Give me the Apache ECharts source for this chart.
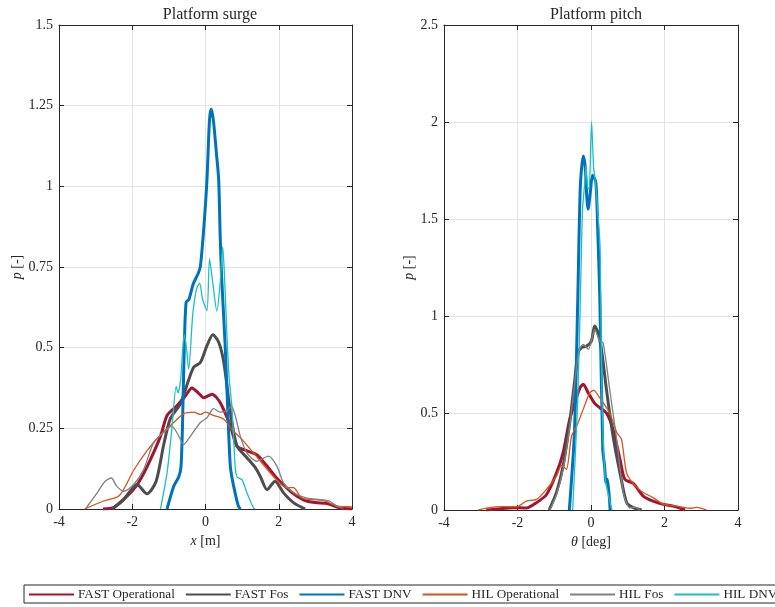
<!DOCTYPE html>
<html>
<head>
<meta charset="utf-8">
<script src="https://cdn.jsdelivr.net/npm/echarts@6/dist/echarts.min.js"></script>
<style>html,body{margin:0;padding:0;background:#fff}#c{width:775px;height:607px}</style>
</head>
<body>
<div id="c"></div>
<script>
// ---- DATA ----
const seriesNames = ['FAST Operational', 'FAST Fos', 'FAST DNV', 'HIL Operational', 'HIL Fos', 'HIL DNV'];
const xTicks = [-4, -2, 0, 2, 4];

// Platform surge (x in m, p)
const surgeFastOpX = [-2.8, -2.5, -2.15, -1.87, -1.6, -1.23, -1.05, -0.78, -0.55, -0.37, -0.2, -0.05, 0.18, 0.4, 0.68, 0.86, 1.13, 1.4, 1.68, 1.95, 2.35, 2.7, 3.0, 3.32, 3.68, 4.0];
const surgeFastOpP = [0, 0.005, 0.039, 0.075, 0.13, 0.225, 0.29, 0.32, 0.35, 0.375, 0.36, 0.345, 0.356, 0.33, 0.257, 0.195, 0.18, 0.168, 0.133, 0.095, 0.052, 0.027, 0.02, 0.017, 0.003, 0];
const surgeFastFosX = [-2.55, -2.23, -1.87, -1.6, -1.35, -1.14, -0.96, -0.69, -0.46, -0.32, -0.14, 0.04, 0.2, 0.36, 0.5, 0.68, 0.86, 1.13, 1.36, 1.5, 1.68, 1.9, 2.13, 2.41, 2.72];
const surgeFastFosP = [0, 0.03, 0.076, 0.047, 0.085, 0.2, 0.28, 0.325, 0.40, 0.44, 0.454, 0.506, 0.54, 0.517, 0.454, 0.299, 0.195, 0.159, 0.128, 0.10, 0.06, 0.086, 0.05, 0.019, 0];
const surgeFastDnvX = [-1.05, -0.87, -0.73, -0.67, -0.63, -0.58, -0.53, -0.45, -0.34, -0.2, -0.14, -0.05, 0.04, 0.11, 0.16, 0.22, 0.3, 0.36, 0.4, 0.44, 0.54, 0.61, 0.68, 0.77, 0.9, 0.96];
const surgeFastDnvP = [0, 0.07, 0.10, 0.13, 0.25, 0.5, 0.64, 0.65, 0.696, 0.73, 0.752, 0.866, 1.02, 1.207, 1.24, 1.2, 1.1, 1.021, 0.85, 0.72, 0.5, 0.30, 0.13, 0.07, 0.008, 0];
const surgeHilOpX = [-3.3, -2.8, -2.35, -1.96, -1.6, -1.23, -0.87, -0.6, -0.32, -0.14, 0, 0.22, 0.5, 0.77, 1.0, 1.5, 1.9, 2.22, 2.4, 2.62, 2.9, 3.22, 3.59, 3.95, 4.0];
const surgeHilOpP = [0, 0.024, 0.042, 0.12, 0.18, 0.23, 0.268, 0.295, 0.30, 0.293, 0.30, 0.29, 0.278, 0.24, 0.215, 0.148, 0.095, 0.066, 0.066, 0.035, 0.029, 0.027, 0.009, 0.007, 0.006];
const surgeHilFosX = [-3.28, -2.96, -2.74, -2.57, -2.42, -2.23, -1.96, -1.69, -1.42, -1.14, -0.92, -0.73, -0.6, -0.41, -0.14, 0.04, 0.22, 0.4, 0.59, 0.7, 0.81, 0.95, 1.13, 1.4, 1.72, 1.95, 2.13, 2.41, 2.77, 3.13, 3.4, 3.59, 3.77];
const surgeHilFosP = [0, 0.05, 0.086, 0.096, 0.07, 0.055, 0.076, 0.122, 0.205, 0.237, 0.257, 0.226, 0.20, 0.226, 0.268, 0.283, 0.311, 0.30, 0.304, 0.32, 0.29, 0.226, 0.174, 0.148, 0.164, 0.133, 0.081, 0.05, 0.034, 0.029, 0.024, 0.008, 0.003];
const surgeHilDnvX = [-1.23, -1.05, -0.92, -0.8, -0.75, -0.68, -0.58, -0.52, -0.46, -0.35, -0.25, -0.16, -0.08, 0.04, 0.11, 0.2, 0.31, 0.4, 0.47, 0.52, 0.59, 0.65, 0.72, 0.81, 0.86, 1.0, 1.13, 1.31, 1.36];
const surgeHilDnvP = [0, 0.112, 0.247, 0.38, 0.36, 0.40, 0.54, 0.50, 0.433, 0.60, 0.68, 0.70, 0.65, 0.615, 0.775, 0.70, 0.613, 0.70, 0.813, 0.72, 0.525, 0.40, 0.318, 0.132, 0.10, 0.09, 0.05, 0.003, 0];

// Platform pitch (theta in deg, p)
const pitchFastOpX = [-2.85, -2.48, -2.12, -1.76, -1.48, -1.21, -0.94, -0.76, -0.58, -0.44, -0.3, -0.21, -0.08, 0.1, 0.24, 0.42, 0.6, 0.79, 0.92, 1.15, 1.42, 1.69, 1.97, 2.24, 2.56];
const pitchFastOpP = [0, 0.007, 0.012, 0.01, 0.038, 0.08, 0.19, 0.295, 0.467, 0.553, 0.63, 0.648, 0.605, 0.55, 0.527, 0.50, 0.416, 0.26, 0.158, 0.137, 0.072, 0.046, 0.029, 0.02, 0];
const pitchFastFosX = [-1.14, -0.94, -0.76, -0.58, -0.44, -0.35, -0.26, -0.12, 0.01, 0.1, 0.19, 0.29, 0.42, 0.6, 0.79, 0.97, 1.15, 1.38];
const pitchFastFosP = [0, 0.09, 0.227, 0.45, 0.673, 0.81, 0.837, 0.845, 0.87, 0.948, 0.914, 0.82, 0.622, 0.38, 0.19, 0.038, 0.012, 0];
const pitchFastDnvX = [-0.59, -0.45, -0.36, -0.29, -0.21, -0.16, -0.11, -0.08, -0.01, 0.04, 0.13, 0.18, 0.24, 0.32, 0.37, 0.41, 0.45, 0.52];
const pitchFastDnvP = [0, 0.40, 1.086, 1.67, 1.825, 1.773, 1.6, 1.55, 1.653, 1.726, 1.69, 1.464, 1.09, 0.313, 0.227, 0.14, 0.158, 0];
const pitchHilOpX = [-3.07, -2.85, -2.39, -2.03, -1.76, -1.48, -1.21, -0.94, -0.8, -0.67, -0.53, -0.39, -0.21, -0.03, 0.08, 0.2, 0.33, 0.51, 0.7, 0.83, 0.97, 1.19, 1.42, 1.69, 1.97, 2.33, 2.69, 2.88, 3.15];
const pitchHilOpP = [0, 0.01, 0.017, 0.016, 0.046, 0.055, 0.107, 0.175, 0.23, 0.21, 0.38, 0.433, 0.52, 0.605, 0.617, 0.588, 0.553, 0.50, 0.40, 0.364, 0.19, 0.127, 0.09, 0.064, 0.03, 0.02, 0.009, 0.014, 0];
const pitchHilFosX = [-1.12, -0.94, -0.76, -0.58, -0.44, -0.33, -0.21, -0.07, 0.1, 0.24, 0.33, 0.51, 0.7, 0.88, 1.06, 1.2, 1.33];
const pitchHilFosP = [0, 0.08, 0.21, 0.43, 0.66, 0.82, 0.854, 0.828, 0.93, 0.87, 0.862, 0.62, 0.36, 0.09, 0.01, 0.015, 0];
const pitchHilDnvX = [-0.5, -0.36, -0.27, -0.23, -0.17, -0.14, -0.09, -0.05, 0.015, 0.07, 0.12, 0.2, 0.25, 0.3, 0.39, 0.5, 0.57];
const pitchHilDnvP = [0, 0.57, 1.26, 1.55, 1.687, 1.773, 1.66, 1.654, 2.0, 1.77, 1.69, 1.5, 1.34, 0.57, 0.158, 0.055, 0];

// ---- STYLE ----
const FONT = '"Liberation Serif", "DejaVu Serif", serif';
const TXT = '#262626';
const colors = ['#A2142F', '#4D4D4D', '#0072BD', '#D95319', '#808080', '#1BBFC4'];
const widths = [3, 3, 3, 1.3, 1.3, 1.3];

const zip = (xs, ys) => xs.map((x, i) => [x, ys[i]]);
const surge = [zip(surgeFastOpX, surgeFastOpP), zip(surgeFastFosX, surgeFastFosP), zip(surgeFastDnvX, surgeFastDnvP),
               zip(surgeHilOpX, surgeHilOpP), zip(surgeHilFosX, surgeHilFosP), zip(surgeHilDnvX, surgeHilDnvP)];
const pitch = [zip(pitchFastOpX, pitchFastOpP), zip(pitchFastFosX, pitchFastFosP), zip(pitchFastDnvX, pitchFastDnvP),
               zip(pitchHilOpX, pitchHilOpP), zip(pitchHilFosX, pitchHilFosP), zip(pitchHilDnvX, pitchHilDnvP)];

function xAx(grid, main, name) {
  return {
    type: 'value', gridIndex: grid, min: xTicks[0], max: xTicks[xTicks.length - 1], interval: 2,
    position: main ? 'bottom' : 'top',
    axisLine: { show: true, onZero: false, lineStyle: { color: TXT, width: 1 } },
    axisTick: { show: true, inside: true, length: 5, lineStyle: { color: TXT } },
    axisLabel: { show: main, color: TXT, fontFamily: FONT, fontSize: 14, margin: 6 },
    splitLine: { show: main, lineStyle: { color: '#e3e3e3', width: 1 } },
    name: main ? name : '', nameLocation: 'middle', nameGap: 25,
    nameTextStyle: { color: TXT, fontFamily: FONT, fontSize: 14,
      rich: { i: { fontStyle: 'italic', fontFamily: FONT, fontSize: 14, color: TXT } } }
  };
}
function yAx(grid, main, max, step, gap) {
  return {
    type: 'value', gridIndex: grid, min: 0, max: max, interval: step,
    position: main ? 'left' : 'right',
    axisLine: { show: true, onZero: false, lineStyle: { color: TXT, width: 1 } },
    axisTick: { show: true, inside: true, length: 5, lineStyle: { color: TXT } },
    axisLabel: { show: main, color: TXT, fontFamily: FONT, fontSize: 14, margin: 6 },
    splitLine: { show: main, lineStyle: { color: '#e3e3e3', width: 1 } },
    name: main ? '{i|p} [-]' : '', nameLocation: 'middle', nameGap: gap,
    nameTextStyle: { color: TXT, fontFamily: FONT, fontSize: 14,
      rich: { i: { fontStyle: 'italic', fontFamily: FONT, fontSize: 14, color: TXT } } }
  };
}

const series = [];
[surge, pitch].forEach((set, g) => {
  set.forEach((d, k) => {
    series.push({
      type: 'line', name: seriesNames[k], data: d,
      xAxisIndex: g * 2, yAxisIndex: g * 2,
      showSymbol: false, symbol: 'none', smooth: 0.25,
      lineStyle: { color: colors[k], width: widths[k] },
      itemStyle: { color: colors[k] },
      z: k < 3 ? 2 : 3, animation: false
    });
  });
});

const chart = echarts.init(document.getElementById('c'), null, { renderer: 'canvas' });
chart.setOption({
  backgroundColor: '#fff',
  animation: false,
  title: [
    { text: 'Platform surge', left: 205, top: 2, textAlign: 'center',
      textStyle: { fontFamily: FONT, fontSize: 16, fontWeight: 'normal', color: TXT } },
    { text: 'Platform pitch', left: 591, top: 2, textAlign: 'center',
      textStyle: { fontFamily: FONT, fontSize: 16, fontWeight: 'normal', color: TXT } }
  ],
  grid: [
    { left: 59, top: 25, width: 293, height: 484 },
    { left: 444, top: 25, width: 294, height: 485 }
  ],
  xAxis: [xAx(0, true, '{i|x} [m]'), xAx(0, false), xAx(1, true, '{i|θ} [deg]'), xAx(1, false)],
  yAxis: [yAx(0, true, 1.5, 0.25, 31), yAx(0, false, 1.5, 0.25), yAx(1, true, 2.5, 0.5, 26), yAx(1, false, 2.5, 0.5)],
  legend: {
    data: seriesNames, left: 24, top: 585, width: 1200, orient: 'horizontal',
    itemWidth: 45, itemHeight: 12, itemGap: 10,
    itemStyle: { opacity: 0 },
    padding: [3, 4, 2, 4], borderColor: '#262626', borderWidth: 1,
    textStyle: { fontFamily: FONT, fontSize: 13.2, color: TXT, padding: [0, 0, 0, -1] },
    selectedMode: false
  },
  series: series
});
</script>
</body>
</html>
